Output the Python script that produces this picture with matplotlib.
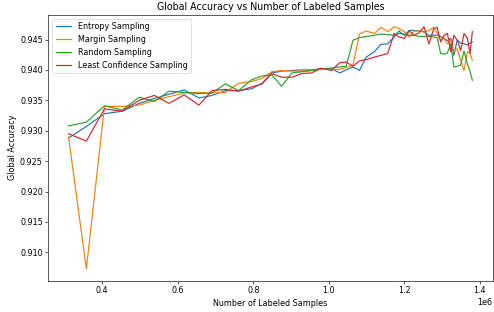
import matplotlib
matplotlib.use("Agg")
import matplotlib.pyplot as plt

# labeled sample counts (in samples)
num_labeled = [311000, 358000, 406000, 453000, 498000, 538000, 577000, 617000, 656000, 691000,
               726000, 761000, 796000, 823000, 849000, 875000, 902000, 928000, 954000, 981000,
               1007000, 1029000, 1046000, 1064000, 1081000, 1099000, 1121000, 1138000, 1156000, 1173000,
               1186000, 1200000, 1213000, 1226000, 1239000, 1252000, 1265000, 1278000, 1287000, 1296000,
               1305000, 1314000, 1323000, 1331000, 1340000, 1349000, 1358000, 1367000, 1374000, 1380000]

entropy_acc = [0.9288, 0.9307, 0.9328, 0.9332, 0.9345, 0.9353, 0.9360, 0.9367, 0.9354, 0.9358,
               0.9366, 0.9366, 0.9369, 0.9378, 0.9395, 0.9398, 0.9399, 0.9400, 0.9400, 0.9402,
               0.9402, 0.9395, 0.9400, 0.9405, 0.9399, 0.9421, 0.9430, 0.9442, 0.9443, 0.9454,
               0.9464, 0.9457, 0.9465, 0.9465, 0.9464, 0.9463, 0.9457, 0.9457, 0.9457, 0.9455,
               0.9452, 0.9448, 0.9452, 0.9424, 0.9449, 0.9444, 0.9443, 0.9441, 0.9444, 0.9446]

margin_acc = [0.9289, 0.9073, 0.9340, 0.9340, 0.9342, 0.9350, 0.9356, 0.9362, 0.9363, 0.9362,
              0.9363, 0.9378, 0.9381, 0.9386, 0.9397, 0.9399, 0.9398, 0.9398, 0.9399, 0.9402,
              0.9400, 0.9401, 0.9404, 0.9408, 0.9459, 0.9464, 0.9460, 0.9470, 0.9463, 0.9471,
              0.9468, 0.9463, 0.9454, 0.9464, 0.9464, 0.9462, 0.9465, 0.9470, 0.9460, 0.9448,
              0.9452, 0.9443, 0.9449, 0.9430, 0.9435, 0.9416, 0.9399, 0.9430, 0.9427, 0.9416]

random_acc = [0.9308, 0.9314, 0.9341, 0.9334, 0.9355, 0.9348, 0.9365, 0.9363, 0.9361, 0.9362,
              0.9377, 0.9366, 0.9384, 0.9390, 0.9392, 0.9373, 0.9395, 0.9397, 0.9399, 0.9402,
              0.9403, 0.9405, 0.9406, 0.9449, 0.9453, 0.9455, 0.9457, 0.9459, 0.9458, 0.9457,
              0.9460, 0.9459, 0.9457, 0.9457, 0.9455, 0.9455, 0.9455, 0.9454, 0.9453, 0.9427,
              0.9426, 0.9428, 0.9443, 0.9405, 0.9406, 0.9408, 0.9431, 0.9410, 0.9397, 0.9383]

least_conf_acc = [0.9295, 0.9283, 0.9336, 0.9332, 0.9350, 0.9358, 0.9345, 0.9359, 0.9342, 0.9366,
                  0.9368, 0.9365, 0.9372, 0.9377, 0.9394, 0.9388, 0.9388, 0.9394, 0.9395, 0.9403,
                  0.9399, 0.9412, 0.9413, 0.9406, 0.9415, 0.9417, 0.9421, 0.9424, 0.9427, 0.9460,
                  0.9454, 0.9452, 0.9464, 0.9457, 0.9461, 0.9471, 0.9443, 0.9468, 0.9470, 0.9446,
                  0.9457, 0.9460, 0.9430, 0.9457, 0.9449, 0.9432, 0.9460, 0.9452, 0.9427, 0.9463]

series = [
    ("Entropy Sampling", entropy_acc),
    ("Margin Sampling", margin_acc),
    ("Random Sampling", random_acc),
    ("Least Confidence Sampling", least_conf_acc),
]

dpi = 57.3
fig = plt.figure(figsize=(494 / dpi, 312 / dpi), dpi=dpi)
ax = fig.add_subplot(111)
for name, acc in series:
    ax.plot(num_labeled, acc, label=name)

ax.set_title("Global Accuracy vs Number of Labeled Samples")
ax.set_xlabel("Number of Labeled Samples")
ax.set_ylabel("Global Accuracy")
ax.legend(loc="upper left")
fig.subplots_adjust(left=0.098, right=0.997, top=0.953, bottom=0.100)
fig.savefig("out.png", dpi=dpi)
